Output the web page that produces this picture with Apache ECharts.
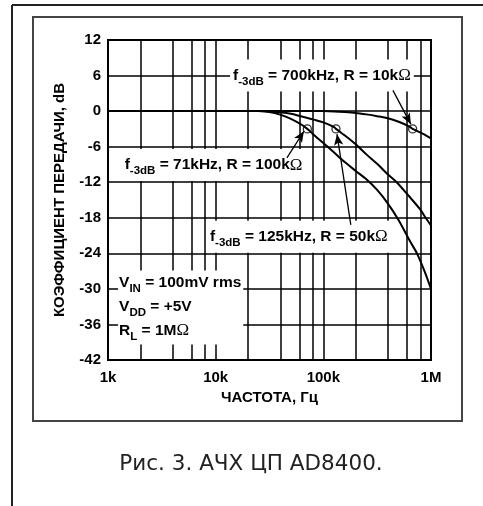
<!DOCTYPE html>
<html><head><meta charset="utf-8">
<script src="https://cdn.jsdelivr.net/npm/echarts@6/dist/echarts.min.js"></script>
<style>html,body{margin:0;padding:0;background:#fff}#c{width:483px;height:506px}</style>
</head><body><div id="c"></div>
<script>
// ---- data ----
const xTickLabels = {1000: '1k', 10000: '10k', 100000: '100k', 1000000: '1M'};
const gridFreqs = [2000, 4000, 6000, 8000, 20000, 40000, 60000, 80000, 200000, 400000, 600000, 800000];

// R = 100 kΩ, f-3dB = 71 kHz
const freqR100k = [1000, 10000, 25000, 31600, 39800, 50000, 63000, 71000, 79400, 100000, 126000, 158000, 200000, 251000, 316000, 398000, 501000, 631000, 740000, 870000, 1000000];
const gainR100k = [0, 0, 0, -0.15, -0.6, -1.3, -2.3, -3, -3.8, -5.4, -7.0, -8.6, -10.1, -11.5, -13.3, -15.6, -18.4, -21.8, -24, -27, -30];

// R = 50 kΩ, f-3dB = 125 kHz
const freqR50k = [1000, 10000, 25000, 31600, 39800, 50000, 63000, 79400, 100000, 126000, 131000, 158000, 200000, 251000, 316000, 398000, 480000, 614000, 794000, 890000, 1000000];
const gainR50k = [0, 0, 0, -0.05, -0.2, -0.45, -0.9, -1.4, -1.9, -2.7, -3, -4.1, -5.6, -7.3, -8.9, -10.7, -12, -14.2, -16.6, -18, -19.3];

// R = 10 kΩ, f-3dB = 700 kHz
const freqR10k = [1000, 10000, 100000, 126000, 158000, 200000, 251000, 316000, 398000, 501000, 631000, 675000, 794000, 1000000];
const gainR10k = [0, 0, 0, -0.05, -0.15, -0.3, -0.55, -0.85, -1.2, -1.8, -2.6, -3, -3.6, -4.6];

// -3 dB marker points
const markerFreq = [71000, 131000, 675000];
const markerGain = [-3, -3, -3];

// ---- annotations (data coords) ----
const annotations = [
  {at: [13600, 6], parts: [['f', 'b'], ['-3dB', 's'], [' = 700kHz, R = 10k', 'b'], ['Ω', 'o']]},
  {at: [1340, -9.1], parts: [['f', 'b'], ['-3dB', 's'], [' = 71kHz, R = 100k', 'b'], ['Ω', 'o']]},
  {at: [8300, -21.2], parts: [['f', 'b'], ['-3dB', 's'], [' = 125kHz, R = 50k', 'b'], ['Ω', 'o']]}
];
const conditions = [
  [['V', 'b'], ['IN', 's'], [' = 100mV rms', 'b']],
  [['V', 'b'], ['DD', 's'], [' = +5V', 'b']],
  [['R', 'b'], ['L', 's'], [' = 1M', 'b'], ['Ω', 'o']]
];
const conditionsAt = [1240, -26.9];
const arrows = [
  [[443000, 3.5], [650000, -2.2]],
  [[45900, -7.9], [66000, -3.4]],
  [[180000, -19.2], [134000, -3.9]]
];

const zip = (a, b) => a.map((v, i) => [v, b[i]]);
const FONT = 'Liberation Sans, Arial, sans-serif';
const rich = {
  b: {fontFamily: FONT, fontWeight: 'bold', fontSize: 15.5, color: '#000', lineHeight: 24, verticalAlign: 'middle'},
  s: {fontFamily: FONT, fontWeight: 'bold', fontSize: 11.5, color: '#000', lineHeight: 12, verticalAlign: 'bottom'},
  o: {fontFamily: 'Liberation Serif, serif', fontWeight: 'normal', fontSize: 17, color: '#000', lineHeight: 24, verticalAlign: 'middle'}
};
const toRich = parts => parts.map(p => '{' + p[1] + '|' + p[0] + '}').join('');

const chart = echarts.init(document.getElementById('c'), null, {renderer: 'canvas'});
const lineStyle = {color: '#000', width: 2};
chart.setOption({
  animation: false,
  backgroundColor: '#fff',
  grid: {left: 108, right: 52, top: 40, bottom: 146, show: true, borderColor: '#000', borderWidth: 2, backgroundColor: 'transparent'},
  xAxis: {
    type: 'log', logBase: 10, min: 1000, max: 1000000,
    name: 'ЧАСТОТА, Гц', nameLocation: 'middle', nameGap: 29,
    nameTextStyle: {fontFamily: FONT, fontWeight: 'bold', fontSize: 15, color: '#000'},
    axisLine: {show: false}, axisTick: {show: false},
    axisLabel: {margin: 10, fontFamily: FONT, fontWeight: 'bold', fontSize: 15, color: '#000',
      formatter: v => xTickLabels[Math.round(v)] || ''},
    splitLine: {show: true, lineStyle: {color: '#000', width: 1.5}}
  },
  yAxis: {
    type: 'value', min: -42, max: 12, interval: 6,
    name: 'КОЭФФИЦИЕНТ ПЕРЕДАЧИ, dB', nameLocation: 'middle', nameGap: 41, nameRotate: 90,
    nameTextStyle: {fontFamily: FONT, fontWeight: 'bold', fontSize: 15, color: '#000'},
    axisLine: {show: false}, axisTick: {show: false},
    axisLabel: {margin: 7, fontFamily: FONT, fontWeight: 'bold', fontSize: 15, color: '#000'},
    splitLine: {show: true, lineStyle: {color: '#000', width: 1.5}}
  },
  series: [
    {type: 'line', data: [], silent: true,
      markLine: {silent: true, symbol: ['none', 'none'], label: {show: false},
        lineStyle: {color: '#000', width: 1.5, type: 'solid'},
        data: gridFreqs.map(f => ({xAxis: f}))}},
    {type: 'line', smooth: 0.3, showSymbol: false, lineStyle, data: zip(freqR100k, gainR100k), z: 3},
    {type: 'line', smooth: 0.3, showSymbol: false, lineStyle, data: zip(freqR50k, gainR50k), z: 3},
    {type: 'line', smooth: 0.3, showSymbol: false, lineStyle, data: zip(freqR10k, gainR10k), z: 3},
    {type: 'scatter', symbol: 'circle', symbolSize: 8, z: 4,
      itemStyle: {color: 'rgba(255,255,255,0)', borderColor: '#000', borderWidth: 1.3},
      data: zip(markerFreq, markerGain),
      markLine: {silent: true, symbol: ['none', 'arrow'], symbolSize: [7, 11], label: {show: false},
        lineStyle: {color: '#000', width: 1.3, type: 'solid'}, z: 12,
        data: arrows.map(a => [{coord: a[0]}, {coord: a[1]}])}}
  ]
});

const graphics = [];
annotations.forEach(a => {
  const p = chart.convertToPixel({gridIndex: 0}, a.at);
  graphics.push({type: 'text', x: p[0], y: p[1], z: 10,
    style: {text: toRich(a.parts), rich, verticalAlign: 'middle', align: 'left',
      backgroundColor: '#fff', padding: [4, 3, 4, 3]}});
});
const cp = chart.convertToPixel({gridIndex: 0}, conditionsAt);
graphics.push({type: 'text', x: cp[0], y: cp[1], z: 10,
  style: {text: conditions.map(toRich).join('\n'), rich, verticalAlign: 'top', align: 'left',
    backgroundColor: '#fff', padding: [0, 2, 2, 1]}});
// frames and caption
graphics.push({type: 'line', shape: {x1: 12, y1: 5, x2: 483, y2: 5}, style: {stroke: '#222', lineWidth: 2}, z: 20});
graphics.push({type: 'line', shape: {x1: 12, y1: 5, x2: 12, y2: 506}, style: {stroke: '#222', lineWidth: 2}, z: 20});
graphics.push({type: 'rect', shape: {x: 33, y: 17, width: 429, height: 404}, style: {stroke: '#444', lineWidth: 2, fill: null}, z: 20});
graphics.push({type: 'text', x: 251, y: 464, z: 20,
  style: {text: 'Рис. 3. АЧХ ЦП AD8400.', fontFamily: 'DejaVu Sans, sans-serif', fontSize: 21.5, fill: '#222',
    align: 'center', verticalAlign: 'middle'}});
chart.setOption({graphic: graphics});
</script>
</body></html>
